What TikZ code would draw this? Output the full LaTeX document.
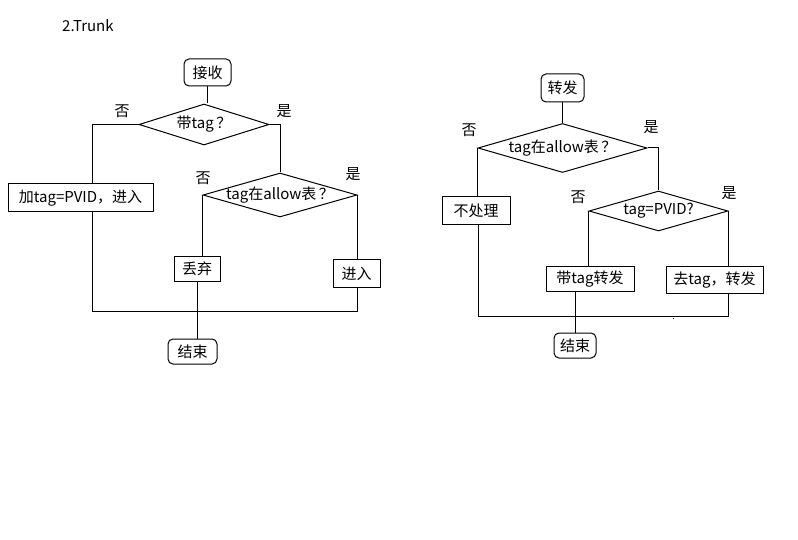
\documentclass[tikz,border=0pt]{standalone}
\usepackage{fontspec}
\setmainfont{Noto Sans CJK SC}
\usetikzlibrary{shapes.geometric}
\begin{document}
\begin{tikzpicture}[x=1pt,y=-1pt,every node/.style={font=\fontsize{15}{17}\selectfont,text=black,inner sep=0pt},line/.style={draw=black,line width=1pt},term/.style={draw,line width=1pt,rounded corners=5pt},proc/.style={draw,line width=1pt},dec/.style={draw,diamond,line width=1pt,inner sep=-4pt}]
\fill[white] (0,0) rectangle (798,540);\useasboundingbox (0,0) rectangle (798,540);
\node[anchor=west] (title) at (62,26) {2.Trunk};

% receive side
\node[term,minimum width=47pt,minimum height=27pt] (rcv) at (207.5,72.5) {接收};
\node[dec,aspect=3.17,minimum width=130pt,minimum height=41pt] (q1) at (204,124.5) {带tag\,？};
\node[proc,minimum width=145pt,minimum height=28pt] (add) at (80.5,198) {加tag=PVID，进入};
\node[dec,aspect=3.5,minimum width=154pt,minimum height=44pt] (q2) at (280,195) {tag在allow表\,？};
\node[proc,minimum width=46pt,minimum height=24pt] (drop) at (197,269) {丢弃};
\node[proc,minimum width=47pt,minimum height=27pt] (in) at (356.5,273.5) {进入};
\node[term,minimum width=49pt,minimum height=25pt] (end1) at (192.5,351.5) {结束};
\node (n1) at (122,111) {否};\node (y1) at (284,111) {是};
\node (n2) at (203,178) {否};\node (y2) at (353,174) {是};
\coordinate (l1) at (92,311);\coordinate (r1) at (357,311);

\draw[line] (rcv.south)--(rcv.south|-q1.north);
\draw[line] (q1.west)-|(add.north-|l1);\draw[line] (add.south-|l1)--(l1)--(r1)--(in.south-|r1);
\draw[line] (q1.east)-|(q2.north);
\draw[line] (q2.west)--(q2.west|-drop.north);\draw[line] (q2.east)--(q2.east|-in.north);
\draw[line] (drop.south)--(drop.south|-end1.north);

% forward side
\node[term,minimum width=43pt,minimum height=28pt] (fwd) at (562.5,88) {转发};
\node[dec,aspect=3.45,minimum width=169pt,minimum height=49pt] (p1) at (562.5,148) {tag在allow表\,？};
\node[proc,minimum width=68pt,minimum height=28pt] (none) at (476,211) {不处理};
\node[dec,aspect=3.47,minimum width=139pt,minimum height=40pt] (p2) at (658.5,211) {tag=PVID?};
\node[proc,minimum width=88pt,minimum height=24pt] (tagfwd) at (590,279) {带tag转发};
\node[proc,minimum width=97pt,minimum height=26pt] (untag) at (714.5,280) {去tag，转发};
\node[term,minimum width=42pt,minimum height=25pt] (end2) at (575,345.5) {结束};
\node (n3) at (469,130) {否};\node (y3) at (651,127) {是};
\node (n4) at (578,197) {否};\node (y4) at (729,193) {是};
\coordinate (l2) at (478,316);\coordinate (r2) at (728,316);

\draw[line] (fwd.south)--(fwd.south|-p1.north);
\draw[line] (p1.west)--(p1.west|-none.north);\draw[line] (none.south-|l2)--(l2)--(r2)--(untag.south-|r2);
\draw[line] (p1.east)-|(p2.north);
\draw[line] (p2.west)--(p2.west|-tagfwd.north);\draw[line] (p2.east)--(p2.east|-untag.north);
\draw[line] (end2.north|-tagfwd.south)--(end2.north);
\fill[black] (672.5,317.5) rectangle (674,319);
\end{tikzpicture}
\end{document}
